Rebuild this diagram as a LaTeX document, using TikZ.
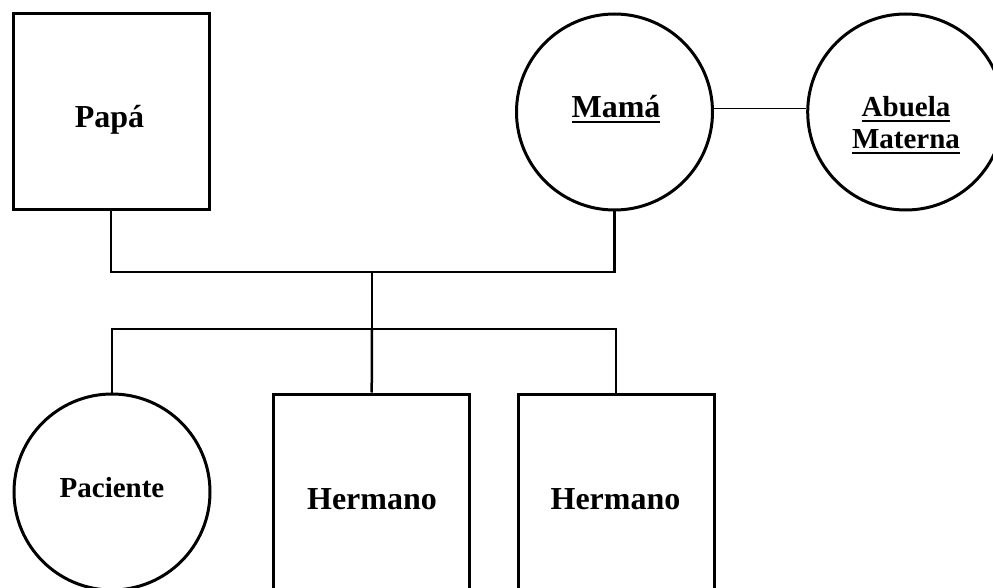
\documentclass[tikz,border=0pt]{standalone}
\usepackage{fontspec}
\setmainfont{Liberation Serif}
\newcommand\ulword[1]{\setbox0\hbox{#1}\rlap{\rule[-5pt]{\wd0}{2pt}}\box0}
\tikzset{
  person/.style={draw=black, line width=3pt, inner sep=0pt},
  male/.style={person, rectangle, minimum width=196pt, minimum height=196pt},
  female/.style={person, circle, minimum size=196pt},
  link/.style={draw=black, line width=2.5pt},
  couple/.style={draw=black, line width=1.7pt},
  bigname/.style={inner sep=0pt, anchor=base, font=\bfseries\fontsize{32}{38}\selectfont},
  smallname/.style={inner sep=0pt, anchor=base, font=\bfseries\fontsize{29}{34}\selectfont},
}
\begin{document}
\begin{tikzpicture}[x=1pt, y=-1pt]
  \useasboundingbox (0,0) rectangle (993,588);
  \clip (0,0) rectangle (993,588);

  % parents and grandmother
  \node[male]   (papa)   at (111,112) {};
  \node[female] (mama)   at (614.5,112) {};
  \node[female] (abuela) at (905.7,112) {};

  % children
  \node[female] (paciente) at (112,492) {};
  \node[male, minimum height=200pt] (herm1) at (371.7,494) {};
  \node[male, minimum height=200pt] (herm2) at (616,494) {};

  % names
  \node[bigname]   (tpapa) at (109.5,128) {Papá};
  \node[bigname]   (tmama) at (616,118) {\ulword{Mamá}};
  \node[smallname] (tab1)  at (906,117) {\ulword{Abuela}};
  \node[smallname] (tab2)  at (906,149) {\ulword{Materna}};
  \node[smallname] (tpac)  at (112,497) {Paciente};
  \node[bigname]   (th1)   at (372,509) {Hermano};
  \node[bigname]   (th2)   at (615.5,509) {Hermano};

  % junction points of the family lines
  \coordinate (parents) at (372,272);
  \coordinate (sibs)    at (372,329);

  % mother -- grandmother
  \draw[couple] (mama.2) -- (abuela.178);

  % parents' line and descent
  \draw[link] (papa.south) |- (parents) -| (mama.south);
  \draw[link] (parents) -- (sibs);
  \draw[link] (paciente.north) |- (sibs) -| (herm2.north);
  \draw[link] (sibs) -- (herm1.north);
\end{tikzpicture}
\end{document}
